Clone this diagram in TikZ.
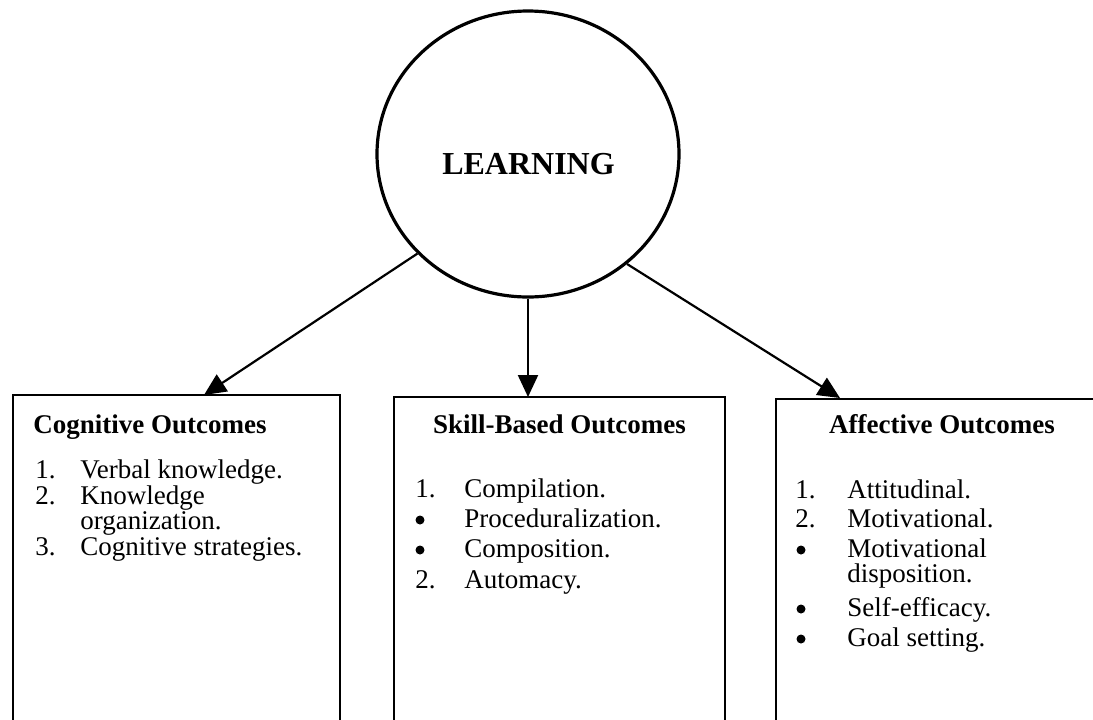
\documentclass[tikz,border=0pt]{standalone}
\usepackage{fontspec}
\setmainfont{Liberation Serif}
\usetikzlibrary{shapes.geometric,arrows.meta}
\begin{document}
\begin{tikzpicture}[x=0.5pt,y=-0.5pt,
  outbox/.style={draw, line width=1.2pt, rectangle, inner sep=0pt, outer sep=0pt, anchor=north west},
  txt/.style={inner sep=0pt, anchor=base west, font=\fontsize{13.5}{15}\selectfont},
  ttl/.style={inner sep=0pt, font=\bfseries\fontsize{13.5}{15}\selectfont},
  bul/.style={circle, fill, inner sep=0pt, minimum size=4.5pt},
  arr/.style={line width=1.1pt, -{Triangle[length=11pt,width=10pt]}}]
\useasboundingbox (0,0) rectangle (1093,719);
% central ellipse
\node[ellipse, draw, line width=1.6pt, inner sep=0pt, minimum width=151pt, minimum height=143pt] (learn) at (528,154) {};
\node[inner sep=0pt, anchor=base, font=\bfseries\fontsize{16}{18}\selectfont] (lbl) at (528.5,174) {LEARNING};
% boxes (bottoms fall outside the page)
\node[outbox, minimum width=163.5pt, minimum height=175pt] (cog) at (13,395) {};
\node[outbox, minimum width=165.5pt, minimum height=175pt] (skill) at (394,397) {};
\node[outbox, minimum width=175pt, minimum height=175pt] (aff) at (776,399) {};
% arrow tips
\coordinate (t1) at (204,395);
\coordinate (t3) at (840,398);
\draw[arr] (learn.222) -- (t1);
\draw[arr] (learn.south) -- (skill.north -| learn.south);
\draw[arr] (learn.312) -- (t3);
% Cognitive
\node[ttl, anchor=base west] (cogt) at (33,433) {Cognitive Outcomes};
\node[txt] (cn1) at (35,478) {1.};
\node[txt] (ct1) at (80,478) {Verbal knowledge.};
\node[txt] (cn2) at (35,504) {2.};
\node[txt] (ct2) at (80,504) {Knowledge};
\node[txt] (ct2b) at (80,529) {organization.};
\node[txt] (cn3) at (35,555) {3.};
\node[txt] (ct3) at (80,555) {Cognitive strategies.};
% Skill-based
\node[ttl, anchor=base] (skt) at (559.5,433) {Skill-Based Outcomes};
\node[txt] (sn1) at (415,497) {1.};
\node[txt] (st1) at (464,497) {Compilation.};
\node[bul] (sn2) at (420,520) {};
\node[txt] (st2) at (464,527) {Proceduralization.};
\node[bul] (sn3) at (420,550) {};
\node[txt] (st3) at (464,557) {Composition.};
\node[txt] (sn4) at (415,588) {2.};
\node[txt] (st4) at (464,588) {Automacy.};
% Affective
\node[ttl, anchor=base] (aft) at (942,433) {Affective Outcomes};
\node[txt] (an1) at (795,498) {1.};
\node[txt] (at1) at (847,498) {Attitudinal.};
\node[txt] (an2) at (795,527) {2.};
\node[txt] (at2) at (847,527) {Motivational.};
\node[bul] (an3) at (801,550) {};
\node[txt] (at3) at (847,557) {Motivational};
\node[txt] (at3b) at (847,582) {disposition.};
\node[bul] (an4) at (801,609) {};
\node[txt] (at4) at (847,616) {Self-efficacy.};
\node[bul] (an5) at (801,639) {};
\node[txt] (at5) at (847,646) {Goal setting.};
\end{tikzpicture}
\end{document}
